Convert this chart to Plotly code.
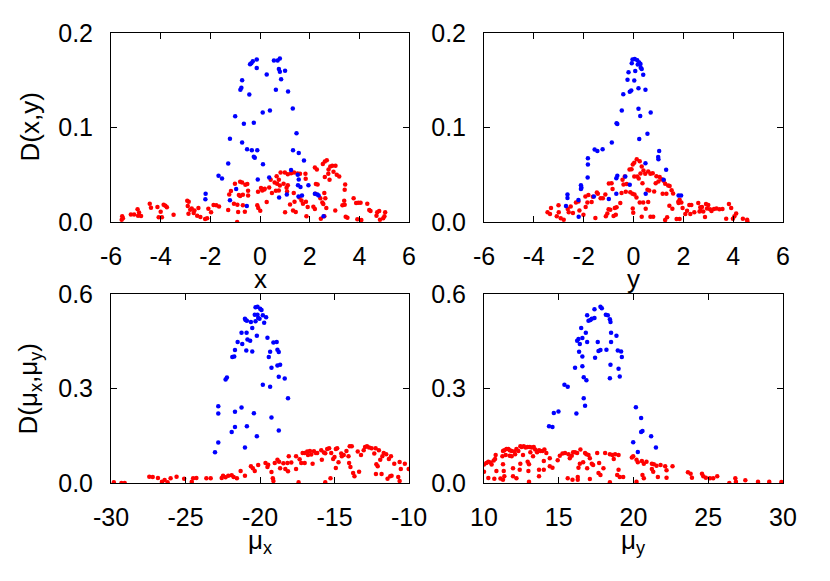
import plotly.graph_objects as go

# ---------------- data ----------------
# Panel 1: D(x,y) vs x
p1_blue = [(-0.35,0.168),(-0.29,0.170),(-0.40,0.167),(-0.13,0.172),(-0.13,0.163),(0.56,0.171),(0.71,0.171),
           (0.80,0.173),(0.76,0.162),(0.80,0.159),(1.01,0.160),(0.85,0.151),(0.27,0.156),(-0.72,0.150),
           (-0.75,0.142),(-0.79,0.140),(-0.43,0.135),(0.64,0.140),(1.13,0.138),(-1.00,0.112),(-0.65,0.104),
           (-0.25,0.105),(0.11,0.116),(0.40,0.118),(1.32,0.120),(-1.21,0.088),(-0.72,0.084),(-0.52,0.077),
           (-0.33,0.076),(-0.11,0.076),(-0.25,0.069),(-0.21,0.068),(1.47,0.094),(1.33,0.076),(1.56,0.073),
           (1.77,0.065),(-1.28,0.062),(0.12,0.061),(1.25,0.055),(1.52,0.050),(-1.67,0.049),(-1.53,0.046),
           (-0.09,0.045),(0.37,0.047),(1.56,0.045),(1.95,0.039),(1.53,0.039),(1.63,0.037),(-2.19,0.030),
           (-2.20,0.024),(-0.96,0.035),(-1.21,0.023),(1.08,0.029),(0.77,0.026),(1.55,0.027),(1.69,0.028),
           (2.21,0.030),(2.31,0.029),(2.36,0.028),(-0.53,0.017),(2.56,0.006)]
p1_red = [(-5.55,0.006),(-5.52,0.004),(-5.57,0.0025),(-5.20,0.008),(-5.07,0.008),(-4.93,0.0134),(-4.87,0.010),
          (-4.91,0.0067),(-4.79,0.0063),(-4.44,0.0193),(-4.39,0.0151),(-4.13,0.0158),(-4.08,0.0049),(-4.00,0.0109),
          (-3.95,0.0049),(-3.88,0.0183),(-3.81,0.0172),(-3.75,0.0155),(-3.48,0.0077),(-2.93,0.0225),(-2.87,0.0214),
          (-2.91,0.0169),(-2.81,0.013),(-2.88,0.0088),(-2.75,0.0144),(-2.64,0.0123),(-2.67,0.0095),(-2.53,0.0067),
          (-2.48,0.0148),(-2.40,0.0053),(-2.21,0.0032),(-2.13,0.0039),(-2.08,0.0141),(-1.97,0.0102),(-1.87,0.0179),
          (-1.76,0.0176),(-1.65,0.0165),(-1.28,0.0127),(-1.24,0.0292),(-1.17,0.0327),(-1.01,0.0404),(-0.88,0.0105),
          (-0.80,0.0425),(-0.72,0.0418),(-0.59,0.0394),(-0.51,0.0401),(-0.48,0.033),(-0.48,0.0281),(-0.69,0.0288),
          (-0.80,0.0274),(-0.85,0.0285),(-1.05,0.0193),(-0.91,0.0183),(-0.69,0.0176),(-0.61,0.0109),(-0.92,0.0),
          (-0.08,0.032),(0.09,0.0334),(0.17,0.0344),(0.04,0.0359),(-0.07,0.0148),(0.01,0.012),(0.27,0.0211),
          (0.37,0.0366),(0.43,0.0446),(0.59,0.0418),(0.67,0.0485),(0.69,0.0404),(0.76,0.0446),(0.83,0.0524),
          (0.80,0.0387),(0.64,0.033),(0.48,0.0306),(0.76,0.0334),(0.95,0.0404),(1.00,0.0524),(1.12,0.0506),
          (1.12,0.039),(1.07,0.0362),(1.09,0.0323),(1.01,0.0102),(1.25,0.0517),(1.37,0.0524),(1.51,0.0513),
          (1.61,0.051),(1.36,0.0306),(1.39,0.0214),(1.33,0.0123),(1.44,0.0105),(1.59,0.026),(1.67,0.0228),
          (1.73,0.0193),(1.83,0.051),(1.84,0.0457),(1.85,0.0214),(1.87,0.006),(2.21,0.0576),(2.29,0.0555),
          (2.53,0.0615),(2.61,0.064),(2.69,0.0654),(2.76,0.0555),(2.83,0.0587),(2.91,0.0594),(2.96,0.0531),
          (3.04,0.0594),(3.09,0.0499),(3.19,0.0482),(2.61,0.0475),(2.75,0.051),(2.80,0.0446),(2.25,0.0401),
          (2.32,0.0397),(2.23,0.0299),(2.59,0.0306),(2.43,0.025),(2.63,0.025),(2.51,0.0207),(2.55,0.019),
          (2.67,0.0148),(2.45,0.0035),(2.59,0.006),(2.21,0.0137),(2.15,0.0162),(1.92,0.0158),(3.03,0.0123),
          (3.32,0.0176),(3.41,0.0183),(3.43,0.0397),(3.41,0.0341),(3.39,0.0225),(3.45,0.0056),(3.52,0.0046),
          (3.77,0.025),(3.87,0.020),(3.96,0.0204),(4.05,0.0204),(4.32,0.0193),(4.40,0.0127),(4.45,0.0116),
          (4.72,0.0102),(4.80,0.0116),(5.04,0.0102),(5.01,0.006),(4.96,0.0039),(4.83,0.0025),(4.69,0.0067),
          (3.92,0.0028),(4.08,0.0021),(0.19,0.0351),(1.21,0.0186),(-0.11,0.0176)]

# Panel 2: D(x,y) vs y
p2_blue = [(-0.04,0.1719),(0.05,0.1726),(0.15,0.1712),(-0.07,0.168),(0.23,0.1687),(0.28,0.1673),(0.17,0.1666),
           (0.33,0.162),(0.29,0.1631),(-0.20,0.1585),(0.07,0.1599),(0.39,0.1557),(-0.24,0.1504),(0.03,0.1497),
           (0.48,0.1399),(-0.09,0.1392),(-0.15,0.1378),(0.20,0.1416),(-0.41,0.1353),(-0.47,0.1181),(0.20,0.1199),
           (0.27,0.1121),(0.69,0.116),(-0.68,0.1044),(-0.65,0.1037),(0.56,0.0935),(0.23,0.0879),(-0.87,0.084),
           (-1.56,0.0766),(-1.45,0.0752),(-1.24,0.077),(1.03,0.0752),(0.99,0.0689),(1.00,0.0664),(-1.83,0.0675),
           (-1.83,0.0608),(0.48,0.0622),(1.31,0.0552),(-1.84,0.0471),(-0.65,0.0489),(-0.69,0.0464),(-0.33,0.0482),
           (-0.15,0.0394),(1.21,0.0446),(-2.11,0.039),(-2.11,0.0348),(-2.09,0.0362),(-0.69,0.0299),(0.49,0.0299),
           (1.81,0.0281),(1.91,0.0281),(-2.65,0.0292),(-2.65,0.0253),(-1.59,0.0271),(-0.99,0.0243),(-2.21,0.0232),
           (-2.71,0.0169),(-2.20,0.0056)]
p2_red = [(-3.45,0.0102),(-3.35,0.0084),(-3.31,0.0148),(-3.08,0.006),(-3.01,0.0176),(-3.00,0.0102),(-2.92,0.0039),
          (-2.80,0.0025),(-2.64,0.0137),(-2.60,0.0102),(-2.52,0.0165),(-2.43,0.0095),(-2.31,0.0207),(-2.21,0.0218),
          (-2.17,0.0123),(-2.01,0.0077),(-1.92,0.0158),(-1.93,0.0271),(-1.81,0.0285),(-1.85,0.0207),(-1.68,0.0211),
          (-1.63,0.0267),(-1.53,0.0042),(-1.47,0.0313),(-1.43,0.0299),(-1.32,0.025),(-1.23,0.025),(-1.13,0.0292),
          (-1.11,0.006),(-1.05,0.0091),(-1.00,0.0134),(-0.93,0.013),(-0.99,0.0408),(-0.88,0.0411),(-0.84,0.0348),
          (-0.80,0.0063),(-0.75,0.0148),(-0.68,0.0155),(-0.71,0.0077),(-0.53,0.020),(-0.48,0.0306),(-0.44,0.0446),
          (-0.40,0.0397),(-0.35,0.0482),(-0.27,0.0401),(-0.31,0.032),(-0.16,0.0555),(-0.08,0.0559),(-0.03,0.0608),
          (0.03,0.0626),(0.13,0.0664),(0.25,0.0643),(0.33,0.0587),(0.40,0.0545),(0.47,0.051),(0.28,0.0513),
          (0.36,0.0411),(0.59,0.0534),(0.68,0.051),(0.77,0.0517),(0.15,0.0482),(0.21,0.046),(0.03,0.0482),
          (-0.13,0.0316),(-0.04,0.0299),(0.04,0.0292),(0.12,0.026),(-0.03,0.0144),(-0.01,0.0098),(0.25,0.0207),
          (0.39,0.0207),(0.59,0.0211),(0.49,0.0141),(0.33,0.0056),(0.68,0.0056),(0.79,0.0056),(0.56,0.0341),
          (0.63,0.0334),(0.83,0.0323),(0.89,0.0411),(0.92,0.0485),(1.05,0.0475),(1.13,0.0453),(1.00,0.0429),
          (1.21,0.0436),(1.27,0.0404),(1.39,0.0387),(1.45,0.038),(1.53,0.0337),(1.17,0.0299),(1.32,0.0299),
          (1.59,0.0302),(1.44,0.0172),(1.56,0.0141),(1.27,0.0021),(1.35,0.0049),(1.73,0.0032),(1.85,0.0032),
          (1.85,0.0236),(1.81,0.020),(1.80,0.0214),(1.92,0.0207),(1.97,0.0148),(2.15,0.012),(2.28,0.0084),
          (2.24,0.0179),(2.32,0.0179),(2.44,0.0102),(2.60,0.020),(2.68,0.0155),(2.69,0.012),(2.75,0.0158),
          (2.87,0.0053),(2.91,0.019),(2.95,0.0144),(3.00,0.0179),(3.07,0.0134),(3.13,0.0116),(3.23,0.0137),
          (3.33,0.0144),(3.45,0.0134),(3.57,0.0137),(3.83,0.019),(3.92,0.0148),(3.99,0.0035),(4.05,0.006),
          (4.12,0.0091),(3.72,0.0035),(4.39,0.0035),(4.56,0.0025),(4.57,0.0007),(2.65,0.0112),(2.80,0.0112),
          (2.08,0.0084)]

# Panel 3: D(mu_x,mu_y) vs mu_x
p3_blue = [(-20.30,0.5576),(-20.17,0.5597),(-19.99,0.5534),(-19.90,0.5491),(-20.35,0.5343),(-20.17,0.5343),
           (-20.12,0.5237),(-20.03,0.5216),(-19.81,0.5322),(-19.59,0.5258),(-20.30,0.5131),(-19.72,0.5089),
           (-21.01,0.5216),(-20.97,0.5173),(-20.88,0.5152),(-20.61,0.511),(-20.52,0.4919),(-21.24,0.477),
           (-20.90,0.477),(-20.21,0.4675),(-21.50,0.4474),(-21.19,0.441),(-20.84,0.4558),(-20.66,0.4516),
           (-19.50,0.4612),(-19.10,0.4463),(-18.88,0.4474),(-21.68,0.4219),(-20.92,0.4209),(-20.52,0.4177),
           (-18.83,0.423),(-18.74,0.4156),(-19.32,0.4166),(-21.86,0.3997),(-21.73,0.4018),(-19.41,0.3997),
           (-18.83,0.3732),(-18.65,0.3753),(-19.23,0.3657),(-22.31,0.3286),(-22.22,0.335),(-18.74,0.3371),
           (-18.34,0.3318),(-19.81,0.3117),(-19.32,0.3053),(-18.12,0.2693),(-22.80,0.2438),(-22.80,0.2205),
           (-21.24,0.2396),(-21.68,0.2258),(-20.41,0.2216),(-19.23,0.2078),(-21.90,0.1622),(-21.68,0.1781),
           (-20.88,0.1802),(-18.74,0.1664),(-20.21,0.1484),(-22.80,0.1283),(-23.02,0.0975),(-21.01,0.1124)]
p3_red = [(-29.81,0.0021),(-29.30,0.0),(-29.08,0.0),(-27.43,0.0201),(-27.20,0.0191),(-26.85,0.0159),(-26.58,0.0042),
          (-26.40,0.0095),(-26.20,0.0021),(-26.00,0.0148),(-25.60,0.0201),(-25.09,0.0138),(-24.58,0.0042),
          (-24.49,0.0148),(-24.27,0.0159),(-23.60,0.0148),(-23.31,0.0148),(-22.57,0.0159),(-22.48,0.0233),
          (-22.31,0.018),(-22.13,0.0233),(-21.90,0.0244),(-21.77,0.0191),(-21.55,0.0148),(-21.30,0.0382),
          (-21.01,0.0233),(-20.61,0.053),(-20.48,0.0466),(-20.35,0.0382),(-20.12,0.0572),(-19.63,0.0636),
          (-19.50,0.0509),(-19.23,0.035),(-19.14,0.0148),(-19.10,0.0064),(-19.01,0.0636),(-18.83,0.0742),
          (-18.72,0.0678),(-18.65,0.0466),(-18.43,0.0625),(-18.30,0.0445),(-18.12,0.0371),(-18.07,0.0848),
          (-17.90,0.0647),(-17.58,0.0445),(-17.41,0.0021),(-17.34,0.0753),(-17.23,0.0636),(-17.14,0.0954),
          (-17.00,0.0954),(-16.83,0.0997),(-16.78,0.089),(-16.65,0.1018),(-16.56,0.0901),(-16.47,0.0615),
          (-16.38,0.1007),(-16.25,0.0954),(-16.16,0.0954),(-15.89,0.1039),(-15.85,0.0742),(-15.71,0.0965),
          (-15.62,0.0943),(-15.49,0.1081),(-15.36,0.1103),(-15.22,0.0954),(-15.09,0.0763),(-15.00,0.0827),
          (-14.91,0.1081),(-14.82,0.1103),(-14.55,0.0933),(-14.91,0.0477),(-14.73,0.0657),(-14.51,0.0848),
          (-14.38,0.089),(-14.20,0.1018),(-14.06,0.0848),(-13.98,0.1166),(-13.84,0.1166),(-14.02,0.0636),
          (-13.93,0.0509),(-13.75,0.0318),(-13.35,0.036),(-13.44,0.0997),(-13.22,0.089),(-13.04,0.1039),
          (-12.95,0.1145),(-12.82,0.1166),(-12.68,0.1124),(-12.51,0.1103),(-12.24,0.1103),(-12.33,0.0933),
          (-12.02,0.1039),(-11.93,0.0742),(-11.79,0.0848),(-11.70,0.0954),(-11.53,0.0912),(-11.35,0.0763),
          (-11.21,0.0848),(-12.19,0.0594),(-12.10,0.053),(-12.22,0.0286),(-11.84,0.0286),(-11.44,0.0138),
          (-11.26,0.0212),(-11.17,0.0233),(-10.99,0.0615),(-10.72,0.0191),(-10.63,0.0064),(-10.55,0.0445),
          (-10.28,0.0615),(-10.02,0.0445),(-10.63,0.0668),(-13.66,0.0212),(-15.62,0.0021),(-15.27,0.0148),
          (-17.58,0.0848),(-17.00,0.0636),(-18.16,0.0636),(-19.45,0.0583)]

# Panel 4: D(mu_x,mu_y) vs mu_y
p4_blue = [(17.79,0.5597),(17.88,0.5544),(17.39,0.5513),(18.15,0.5343),(18.28,0.5322),(17.21,0.5216),(17.39,0.5237),
           (18.42,0.5195),(18.46,0.511),(16.90,0.5322),(16.99,0.5152),(17.12,0.5173),(16.50,0.4919),(16.81,0.477),
           (16.23,0.4516),(16.32,0.4569),(16.58,0.4601),(16.90,0.4474),(17.61,0.4474),(18.50,0.477),(18.86,0.4675),
           (16.41,0.441),(16.36,0.4166),(16.58,0.4018),(17.66,0.4187),(17.79,0.4219),(18.19,0.423),(18.50,0.4474),
           (18.95,0.4209),(19.17,0.4177),(19.22,0.3997),(16.09,0.3657),(16.58,0.371),(17.43,0.3975),(18.46,0.3753),
           (19.00,0.3626),(16.67,0.3361),(16.85,0.3265),(18.42,0.3329),(19.08,0.3382),(15.38,0.3117),(15.60,0.3053),
           (16.67,0.2693),(16.76,0.2449),(16.18,0.2205),(14.98,0.2269),(14.67,0.2226),(14.35,0.1802),(14.58,0.1781),
           (20.16,0.2406),(20.51,0.2067),(20.51,0.1622),(20.60,0.1654),(21.18,0.1484),(21.50,0.1124),(19.98,0.1293),
           (20.29,0.0986)]
p4_red = [(10.00,0.059),(10.16,0.0635),(10.29,0.0676),(10.43,0.0654),(10.51,0.059),(10.65,0.0717),(10.78,0.0889),
          (10.74,0.0762),(10.00,0.0359),(10.29,0.0159),(10.69,0.0137),(10.83,0.0381),(11.10,0.0146),
          (11.27,0.1018),(11.36,0.1039),(11.50,0.1081),(11.63,0.1081),(11.72,0.1039),(11.85,0.1018),(12.03,0.0997),
          (12.17,0.1081),(12.30,0.1018),(12.43,0.1166),(12.52,0.1145),(12.66,0.1166),(12.79,0.1124),(12.92,0.1145),
          (13.06,0.1145),(13.19,0.1124),(13.33,0.1145),(13.42,0.106),(13.55,0.0975),(13.68,0.1039),(13.77,0.1018),
          (13.91,0.1018),(14.04,0.106),(14.17,0.0954),(12.61,0.089),(13.10,0.0975),(13.28,0.0848),(11.23,0.0848),
          (11.45,0.089),(11.72,0.0869),(11.85,0.0848),(12.08,0.0912),(12.92,0.0678),(13.01,0.0594),(12.43,0.0615),
          (11.27,0.0594),(11.32,0.0382),(11.94,0.0466),(12.39,0.0424),(12.97,0.0382),(13.68,0.0424),(14.00,0.070),
          (14.40,0.0784),(14.40,0.053),(14.58,0.0488),(14.93,0.0721),(15.07,0.0869),(15.25,0.0933),(15.42,0.0954),
          (15.65,0.0912),(15.74,0.0784),(15.87,0.0869),(15.96,0.0975),(16.09,0.0975),(16.23,0.0954),(16.41,0.0615),
          (16.32,0.0488),(16.63,0.0657),(16.76,0.0954),(16.85,0.0912),(16.99,0.089),(17.08,0.0784),(17.21,0.0615),
          (16.90,0.0466),(17.30,0.0572),(17.57,0.0954),(17.66,0.0318),(17.79,0.0254),(18.10,0.0954),(18.42,0.0912),
          (18.59,0.089),(18.68,0.0763),(18.77,0.0912),(19.00,0.089),(19.00,0.0424),(18.91,0.0254),(19.08,0.0191),
          (19.31,0.0191),(19.89,0.0806),(19.98,0.0848),(20.20,0.0742),(20.29,0.0657),(20.56,0.070),(20.69,0.0615),
          (20.87,0.0678),(21.23,0.0615),(21.36,0.0594),(21.54,0.0551),(21.81,0.0572),(22.12,0.053),(22.21,0.0403),
          (22.61,0.053),(20.60,0.0254),(20.69,0.0148),(21.63,0.0191),(22.21,0.017),(21.32,0.036),(21.23,0.0445),
          (20.20,0.0042),(23.64,0.0339),(23.91,0.017),(23.82,0.0297),(24.58,0.0297),(24.67,0.0212),(24.84,0.017),
          (25.11,0.0148),(25.33,0.0148),(25.60,0.0212),(26.41,0.0),(26.81,0.0148),(26.85,0.0042),(27.48,0.0085),
          (28.33,0.0042),(29.08,0.0042),(29.89,0.0032),(11.27,0.0106),(11.36,0.0212),(11.94,0.0212),(12.17,0.0148),
          (13.01,0.0042),(14.00,0.0424),(15.60,0.0148),(15.92,0.0106),(16.27,0.0191),(16.27,0.0106),(17.08,0.0127),
          (18.42,0.0021),(17.99,0.0466),(17.70,0.0636),(16.45,0.106),(13.68,0.0212)]

# tick labels
xy_tick_vals = [-6, -4, -2, 0, 2, 4, 6]
xy_tick_text = ["-6", "-4", "-2", "0", "2", "4", "6"]
mux_tick_vals = [-30, -25, -20, -15, -10]
mux_tick_text = ["-30", "-25", "-20", "-15", "-10"]
muy_tick_vals = [10, 15, 20, 25, 30]
muy_tick_text = ["10", "15", "20", "25", "30"]
top_y_vals = [0.0, 0.1, 0.2]
top_y_text = ["0.0", "0.1", "0.2"]
bot_y_vals = [0.0, 0.3, 0.6]
bot_y_text = ["0.0", "0.3", "0.6"]

# ---------------- figure ----------------
W, H = 830, 581
FONT = "Liberation Sans, Arial, Helvetica, sans-serif"
TICK_SIZE = 25
TITLE_SIZE = 26

fig = go.Figure()

panels = [
    ("x", "y", p1_red, p1_blue),
    ("x2", "y2", p2_red, p2_blue),
    ("x3", "y3", p3_red, p3_blue),
    ("x4", "y4", p4_red, p4_blue),
]
for xa, ya, red, blue in panels:
    for pts, col in ((red, "#ff0000"), (blue, "#0000ff")):
        fig.add_trace(go.Scatter(
            x=[p[0] for p in pts], y=[p[1] for p in pts],
            xaxis=xa, yaxis=ya, mode="markers",
            marker=dict(color=col, size=4.5, line=dict(width=0)),
            showlegend=False, hoverinfo="skip"))

def px_x(a, b):
    return [a / W, b / W]

def px_y(top, bottom):
    return [1 - bottom / H, 1 - top / H]

common = dict(showline=True, linecolor="black", linewidth=1, mirror="ticks",
              ticks="inside", ticklen=6, tickwidth=1, tickcolor="black",
              showgrid=False, zeroline=False, fixedrange=True, automargin=False,
              tickfont=dict(family=FONT, size=TICK_SIZE, color="black"),
              ticklabelstandoff=12)

dom_x_left = px_x(111, 409)
dom_x_right = px_x(484, 783)
dom_y_top = px_y(33, 222)
dom_y_bot = px_y(294, 483)

fig.update_layout(
    template="none",
    width=W, height=H, margin=dict(l=0, r=0, t=0, b=0, pad=0, autoexpand=False),
    paper_bgcolor="white", plot_bgcolor="white",
    font=dict(family=FONT, color="black"),
    xaxis=dict(domain=dom_x_left, anchor="y", range=[-6, 6], tickvals=xy_tick_vals, ticktext=xy_tick_text, **common),
    yaxis=dict(domain=dom_y_top, anchor="x", range=[0, 0.2], tickvals=top_y_vals, ticktext=top_y_text, **common),
    xaxis2=dict(domain=dom_x_right, anchor="y2", range=[-6, 6], tickvals=xy_tick_vals, ticktext=xy_tick_text, **common),
    yaxis2=dict(domain=dom_y_top, anchor="x2", range=[0, 0.2], tickvals=top_y_vals, ticktext=top_y_text, **common),
    xaxis3=dict(domain=dom_x_left, anchor="y3", range=[-30, -10], tickvals=mux_tick_vals, ticktext=mux_tick_text, **common),
    yaxis3=dict(domain=dom_y_bot, anchor="x3", range=[0, 0.6], tickvals=bot_y_vals, ticktext=bot_y_text, **common),
    xaxis4=dict(domain=dom_x_right, anchor="y4", range=[10, 30], tickvals=muy_tick_vals, ticktext=muy_tick_text, **common),
    yaxis4=dict(domain=dom_y_bot, anchor="x4", range=[0, 0.6], tickvals=bot_y_vals, ticktext=bot_y_text, **common),
)

titles = [
    ("x", 260, 279, 0),
    ("y", 633.5, 279, 0),
    ("μ<sub>x</sub>", 260, 541, 0),
    ("μ<sub>y</sub>", 633.5, 541, 0),
    ("D(x,y)", 30, 127.5, -90),
    ("D(μ<sub>x</sub>,μ<sub>y</sub>)", 29, 388.5, -90),
]
for text, xp, yp, ang in titles:
    fig.add_annotation(text=text, x=xp / W, y=1 - yp / H, xref="paper", yref="paper",
                       xanchor="center", yanchor="middle", showarrow=False, textangle=ang,
                       font=dict(family=FONT, size=TITLE_SIZE, color="black"))

fig.write_html("out.html", config={"displayModeBar": False},
               post_script="document.body.style.margin='0px';")
